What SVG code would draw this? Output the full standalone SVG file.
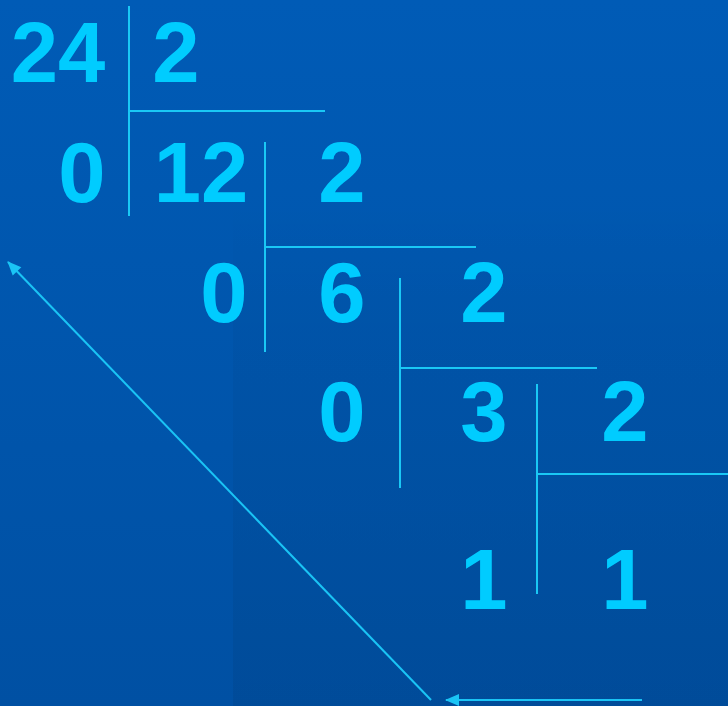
<svg xmlns="http://www.w3.org/2000/svg" width="728" height="706" viewBox="0 0 728 706">
  <defs>
    <linearGradient id="bg" x1="0" y1="0" x2="0" y2="1">
      <stop offset="0" stop-color="#005BB6"/>
      <stop offset="1" stop-color="#0050A3"/>
    </linearGradient>
    <linearGradient id="panel" x1="0" y1="0" x2="0" y2="1">
      <stop offset="0" stop-color="#000000" stop-opacity="0"/>
      <stop offset="0.25" stop-color="#000000" stop-opacity="0.03"/>
      <stop offset="1" stop-color="#000000" stop-opacity="0.06"/>
    </linearGradient>
    <marker id="ah" markerWidth="16" markerHeight="14" refX="13" refY="6" orient="auto" markerUnits="userSpaceOnUse" overflow="visible">
      <path d="M0,0 L14,6 L0,12 Z" fill="#1AC4F5"/>
    </marker>
    <style>
      .n { font-family: "Liberation Sans", Arial, sans-serif; font-weight: bold; font-size: 85px; fill: #00CCFF; text-anchor: middle; }
      .l { stroke: #1AC8F5; stroke-width: 2; fill: none; }
      .a { stroke: #1AC4F5; stroke-width: 2; fill: none; marker-end: url(#ah); }
    </style>
  </defs>
  <rect width="728" height="706" fill="url(#bg)"/>
  <rect x="233" y="200" width="495" height="506" fill="url(#panel)"/>

  <g id="connectors">
    <line class="l" x1="129" y1="6" x2="129" y2="216"/>
    <line class="l" x1="129" y1="111" x2="325" y2="111"/>
    <line class="l" x1="265" y1="142" x2="265" y2="352"/>
    <line class="l" x1="265" y1="247" x2="476" y2="247"/>
    <line class="l" x1="400" y1="278" x2="400" y2="488"/>
    <line class="l" x1="400" y1="368" x2="597" y2="368"/>
    <line class="l" x1="537" y1="384" x2="537" y2="594"/>
    <line class="l" x1="537" y1="474" x2="728" y2="474"/>
    <line class="a" x1="431" y1="700" x2="8" y2="262"/>
    <line class="a" x1="642" y1="700" x2="446" y2="700"/>
  </g>

  <g id="row1">
    <text class="n" x="58" y="82">24</text>
    <text class="n" x="176" y="82">2</text>
  </g>
  <g id="row2">
    <text class="n" x="82" y="202">0</text>
    <text class="n" x="201" y="202">12</text>
    <text class="n" x="342" y="202">2</text>
  </g>
  <g id="row3">
    <text class="n" x="224" y="322">0</text>
    <text class="n" x="342" y="322">6</text>
    <text class="n" x="484" y="322">2</text>
  </g>
  <g id="row4">
    <text class="n" x="342" y="441">0</text>
    <text class="n" x="484" y="441">3</text>
    <text class="n" x="625" y="441">2</text>
  </g>
  <g id="row5">
    <text class="n" x="484" y="609">1</text>
    <text class="n" x="625" y="609">1</text>
  </g>
</svg>
